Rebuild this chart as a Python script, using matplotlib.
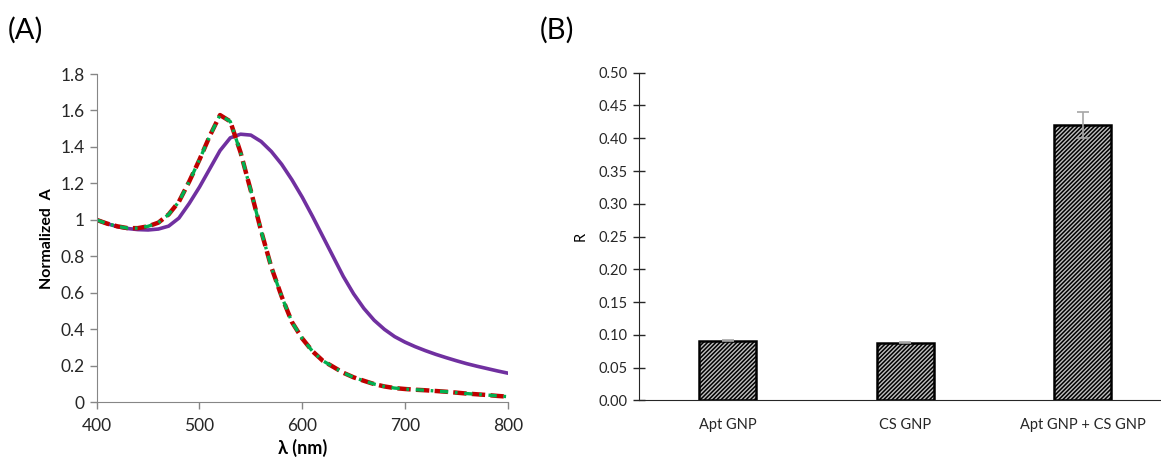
import numpy as np
import matplotlib.pyplot as plt
from matplotlib.ticker import FormatStrFormatter, FuncFormatter

plt.rcParams['font.family'] = ['Lato', 'DejaVu Sans']
plt.rcParams['hatch.linewidth'] = 1.1

# (A) spectra, normalized absorbance
wavelength = [400, 410, 420, 430, 440, 450, 460, 470, 480, 490, 500, 510, 520, 530, 540,
              550, 560, 570, 580, 590, 600, 610, 620, 630, 640, 650, 660, 670, 680, 690,
              700, 710, 720, 730, 740, 750, 760, 770, 780, 790, 800]
abs_purple = [1.00, 0.98, 0.963, 0.953, 0.947, 0.945, 0.950, 0.966, 1.01, 1.09, 1.18, 1.28,
              1.38, 1.45, 1.47, 1.465, 1.43, 1.375, 1.305, 1.22, 1.125, 1.02, 0.91, 0.80, 0.69,
              0.595, 0.515, 0.45, 0.40, 0.36, 0.33, 0.305, 0.283, 0.263, 0.245, 0.228, 0.212,
              0.198, 0.185, 0.172, 0.160]
abs_red = [1.00, 0.98, 0.965, 0.955, 0.955, 0.965, 0.985, 1.03, 1.10, 1.21, 1.33, 1.46,
           1.575, 1.54, 1.37, 1.16, 0.94, 0.74, 0.58, 0.44, 0.35, 0.28, 0.228, 0.195, 0.162,
           0.137, 0.118, 0.10, 0.087, 0.078, 0.073, 0.069, 0.066, 0.062, 0.058, 0.053,
           0.048, 0.044, 0.040, 0.035, 0.031]
abs_green = abs_red

# (B) bar chart
groups = ['Apt GNP', 'CS GNP', 'Apt GNP + CS GNP']
r_values = [0.091, 0.088, 0.42]
r_errors = [0.001, 0.001, 0.02]

fig = plt.figure(figsize=(11.61, 4.62), dpi=100)

# ---- panel A ----
axa = fig.add_axes([0.0833, 0.1292, 0.354, 0.7106])
axa.plot(wavelength, abs_purple, color='#7030A0', lw=2.6, solid_joinstyle='round')
axa.plot(wavelength, abs_red, color='#C00000', lw=3.2, ls=(0, (3, 1.2)))
axa.plot(wavelength, abs_green, color='#00B050', lw=2.4, ls=(0, (2.5, 2, 0.8, 2)))
axa.set_xlim(400, 800)
axa.set_ylim(0, 1.8)
axa.set_xticks(np.arange(400, 801, 100))
axa.set_yticks(np.arange(0, 1.81, 0.2))
axa.yaxis.set_major_formatter(FuncFormatter(lambda v, p: '%g' % round(v, 1)))
for s in ['top', 'right']:
    axa.spines[s].set_visible(False)
for s in ['left', 'bottom']:
    axa.spines[s].set_color('#868686')
axa.tick_params(colors='#868686', labelcolor='#262626', labelsize=12.5, length=5, width=1)
axa.tick_params(axis='x', pad=6)
axa.set_ylabel('Normalized  A', fontsize=11.5, fontweight='bold', labelpad=5)
axa.set_xlabel('λ (nm)', fontsize=13, fontweight='bold', labelpad=4)

# ---- panel B ----
axb = fig.add_axes([0.5504, 0.1335, 0.4587, 0.7091])
axb.bar(range(3), r_values, width=0.32, color='#bfbfbf', edgecolor='black',
        linewidth=1.8, hatch='////////', zorder=2)
axb.errorbar(range(3), r_values, yerr=r_errors, fmt='none', ecolor='#A6A6A6',
             elinewidth=1.2, capsize=4, capthick=1.2, zorder=3)
axb.set_xlim(-0.5, 2.5)
axb.set_ylim(0, 0.5)
axb.set_yticks(np.arange(0, 0.501, 0.05))
axb.yaxis.set_major_formatter(FormatStrFormatter('%.2f'))
axb.set_xticks(range(3))
axb.set_xticklabels(groups)
for s in ['top', 'right']:
    axb.spines[s].set_visible(False)
for s in ['left', 'bottom']:
    axb.spines[s].set_color('#262626')
axb.tick_params(axis='y', direction='inout', length=9, width=1, colors='#262626',
                labelsize=10.5)
axb.tick_params(axis='x', length=0, labelsize=10.5, pad=13, colors='#262626')
axb.set_ylabel('R', fontsize=10.5, labelpad=8)

fig.text(0.007, 0.935, '(A)', fontsize=21, va='center', ha='left')
fig.text(0.465, 0.935, '(B)', fontsize=21, va='center', ha='left')

fig.savefig('out.png', dpi=100)
